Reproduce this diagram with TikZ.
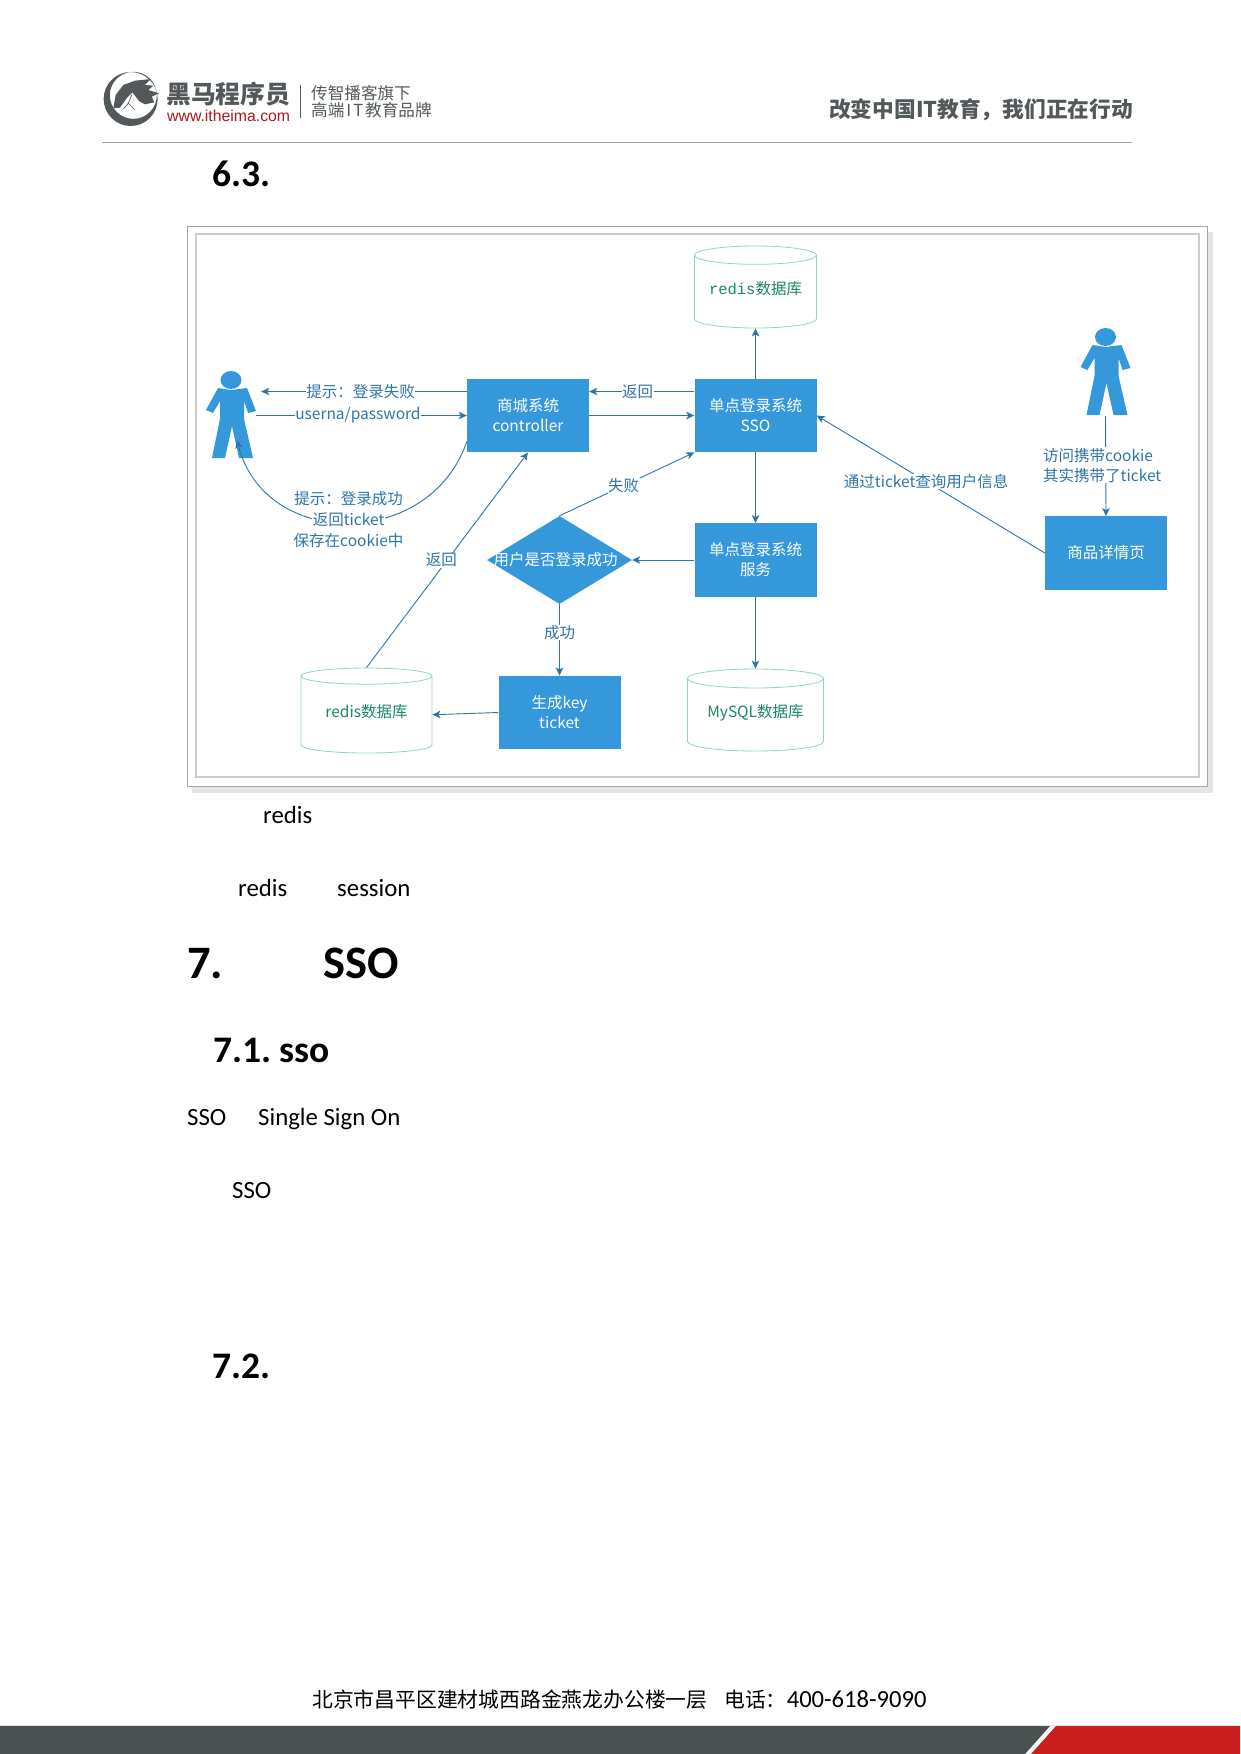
\documentclass[tikz,border=0pt]{standalone}
\usepackage{fontspec}
\setmainfont{Carlito}
\newfontfamily\cjk{Noto Sans CJK SC}
\newfontfamily\monofam{Liberation Mono}
\newfontfamily\arialfam{Liberation Sans}
\usetikzlibrary{arrows.meta,shapes.geometric,positioning}
\definecolor{boxblue}{HTML}{3498DB}
\definecolor{lineblue}{HTML}{2F75A8}
\definecolor{dbline}{HTML}{92D6BA}
\definecolor{dbtext}{HTML}{17896B}
\definecolor{logogrey}{HTML}{53595A}
\definecolor{barslate}{HTML}{4A5352}
\definecolor{barred}{HTML}{C81E1E}
\newcommand{\fwcolon}{\symbol{"FF1A}}
\newcommand{\fwcomma}{\symbol{"FF0C}}
\tikzset{
  sysbox/.style={fill=boxblue,text=white,inner sep=0pt,minimum width=122pt,minimum height=73.5pt,
    align=center,font=\cjk\fontsize{15.5}{20}\selectfont},
  dbcyl/.style={cylinder,shape border rotate=90,shape aspect=0.197,draw=dbline,line width=0.8pt,anchor=shape center,
    inner sep=0pt,minimum height=82pt,text=dbtext,font=\cjk\fontsize{15.5}{20}\selectfont},
  usermark/.style={inner sep=0pt,minimum width=50pt,minimum height=87pt},
  flow/.style={draw=lineblue,line width=0.9pt,-{Stealth[length=8pt,width=7.5pt,inset=2pt]}},
  flowtext/.style={fill=white,text=lineblue,inner sep=0.5pt,align=left,font=\cjk\fontsize{15.5}{20}\selectfont},
  plaintext/.style={text=lineblue,inner sep=0.5pt,font=\cjk\fontsize{15.5}{20}\selectfont},
  bodytext/.style={anchor=base west,inner sep=0pt,font=\fontsize{24.8}{30}\selectfont},
  headtext/.style={anchor=base west,inner sep=0pt,font=\bfseries\fontsize{37.5}{40}\selectfont},
  usershape/.pic={
    \begin{scope}[shift={(0,-35.5)}]
      \path[fill=boxblue] (0,0) circle[x radius=10.5pt,y radius=9pt];
      \path[fill=boxblue] (-13,8)--(0,10)--(16,8)--(25,31)--(17,33)--(13,21)--(13,39)--(22,78)--(8,78)
        --(1,46)--(-6,78)--(-19,78)--(-11,39)--(-11,21)--(-18,33)--(-25,30)--cycle;
    \end{scope}
  }
}
\begin{document}
\begin{tikzpicture}[x=1pt,y=-1pt]
  \useasboundingbox (0,0) rectangle (1240,1754);
  % page head
  \begin{scope}[shift={(95,65)},x=0.3333pt,y=-0.3333pt]
    \path[fill=logogrey,even odd rule] (107,102) circle[radius=27pt]
      (115,91) circle[radius=23.5pt];
    \path[fill=logogrey] (55,130)--(62,90)--(85,60)--(120,47)--(168,42)--(150,60)--(175,62)--(160,75)
      --(192,85)--(170,95)--(178,112)--(150,118)--(132,108)--(112,82)--(95,100)--(75,128)--cycle;
    \draw[logogrey,line width=0.7pt] (110,90)--(100,115)--(85,132) (100,115)--(120,135);
  \end{scope}
  \path (166,94) node[anchor=west,inner sep=0pt,text=logogrey,font=\cjk\bfseries\fontsize{24.8}{28}\selectfont] (logoname) {黑马程序员};
  \path (167,116) node[anchor=west,inner sep=0pt,text=barred!85!black,font=\arialfam\fontsize{15.8}{18}\selectfont] (logoweb) {www.itheima.com};
  \draw[logogrey,line width=0.8pt] (300,85)--(300,118);
  \path (311,93) node[anchor=west,inner sep=0pt,text=logogrey,font=\cjk\fontsize{16.6}{18}\selectfont] (logoa) {传智播客旗下};
  \path (311,110.5) node[anchor=west,inner sep=0pt,text=logogrey,font=\cjk\fontsize{16.6}{18}\selectfont] (logob) {高端\hspace{2pt}I\hspace{2pt}T\hspace{2pt}教育品牌};
  \path (1133,110) node[anchor=east,inner sep=0pt,text=logogrey,font=\cjk\bfseries\fontsize{21.7}{24}\selectfont] (slogan) {改变中国IT教育\fwcomma 我们正在行动};
  \draw[black!35,line width=1pt] (102,142.5)--(1132,142.5);
  \path (212,186) node[headtext] (secsixthree) {6.3.};
  % frame of the figure
  \path[fill=black!10] (192,232) rectangle (1213,793);
  \path[fill=white,draw=black!35,line width=1pt] (187,226) rectangle (1207,786);
  \path[draw=black!20,line width=1.5pt] (196,234) rectangle (1199,777);
  % boxes
  \path (528,415.5) node[sysbox] (mall) {商城系统\\controller};
  \path (755.5,415.5) node[sysbox] (sso) {单点登录系统\\SSO};
  \path (755.5,560) node[sysbox] (service) {单点登录系统\\服务};
  \path (1106,553) node[sysbox] (detail) {商品详情页};
  \path (559.5,712.5) node[sysbox] (ticket) {生成key\\ticket};
  \path (559.5,560) node[diamond,fill=boxblue,text=white,inner sep=0pt,aspect=1.65,minimum width=145pt,minimum height=88pt,
    font=\cjk\fontsize{15.5}{20}\selectfont] (check) {\makebox[100pt]{\hspace{-8pt}用户是否登录成功}};
  \path (755.5,287) node[dbcyl,minimum width=122pt] (redistop) {\raisebox{7pt}{{\monofam redis}数据库}};
  \path (366.5,710.5) node[dbcyl,minimum width=131pt,minimum height=85pt] (redisleft) {\raisebox{7pt}{redis数据库}};
  \path (755.5,710) node[dbcyl,minimum width=136pt] (mysqldb) {\raisebox{7pt}{MySQL数据库}};
  % the two users
  \path (231,415.5) node[usermark] (userl) {};
  \path (1105.5,372.5) node[usermark] (userr) {};
  \path (userl) pic {usershape};
  \path (userr) pic {usershape};
  % connectors
  \draw[flow] ([yshift=24pt]mall.west) -- node[flowtext,pos=0.517] (lblfail) {提示\fwcolon 登录失败} ([xshift=5pt,yshift=24pt]userl.east);
  \draw[flow] (userl.east) -- node[flowtext,pos=0.483] (lbluser) {userna/password} (mall.west);
  \draw[flow] (mall.east) -- (sso.west);
  \draw[flow] ([yshift=24pt]sso.west) -- node[flowtext,pos=0.54] (lblback) {返回} ([yshift=24pt]mall.east);
  \draw[flow] (sso.north) -- (redistop.south);
  \draw[flow] (sso.south) -- (service.north);
  \draw[flow] (service.west) -- (check.east);
  \draw[flow] (service.south) -- (mysqldb.north);
  \draw[flow] (check.north) -- node[flowtext,pos=0.475] (lblno) {失败} (sso.south west);
  \draw[flow] (check.south) -- node[flowtext,pos=0.4] (lblyes) {成功} (ticket.north);
  \draw[flow] (ticket.west) -- (redisleft.east);
  \draw[flow] (redisleft.north) -- node[flowtext,pos=0.5,xshift=-6pt] (lblret) {返回} (mall.south);
  \draw[flow] ([yshift=-26pt]mall.west) .. controls (430,550) and (265,550) ..
    node[flowtext,pos=0.5,yshift=3pt] (lblticket) {返回ticket} ([xshift=6pt,yshift=19pt]userl.south);
  \path ([yshift=21pt]lblticket.center) node[plaintext] (lblok) {提示\fwcolon 登录成功};
  \path ([yshift=-21pt]lblticket.center) node[plaintext] (lblcookie) {保存在cookie中};
  \draw[flow] (detail.west) -- node[flowtext,pos=0.52] (lblquery) {通过ticket查询用户信息} (sso.east);
  \draw[flow] (userr.south) -- node[flowtext,pos=0.49,xshift=-3.5pt] (lblvisit) {访问携带cookie\\其实携带了ticket} (detail.north);
  % text under the figure
  \path (263,823) node[bodytext] (txtredisa) {redis};
  \path (238,896) node[bodytext] (txtredisb) {redis};
  \path (337,896) node[bodytext] (txtsession) {session};
  \path (187,978) node[anchor=base west,inner sep=0pt,font=\bfseries\fontsize{46.5}{50}\selectfont] (secseven) {7.};
  \path (323,978) node[anchor=base west,inner sep=0pt,font=\bfseries\fontsize{46.5}{50}\selectfont] (secsso) {SSO};
  \path (213,1062) node[headtext] (secsevenone) {7.1.\hspace{8pt}sso};
  \path (187,1125) node[bodytext] (txtsso) {SSO};
  \path (258,1125) node[bodytext] (txtsingle) {Single Sign On};
  \path (232,1198) node[bodytext] (txtssob) {SSO};
  \path (212,1378) node[headtext] (secseventwo) {7.2.};
  % page foot
  \path (312,1700) node[anchor=west,inner sep=0pt,font=\fontsize{24.6}{28}\selectfont] (foot)
    {{\cjk\fontsize{20.8}{28}\selectfont 北京市昌平区建材城西路金燕龙办公楼一层\hspace{17pt}电话\fwcolon}400-618-9090};
  \path[fill=black!10] (0,1724.5) rectangle (1240,1726);
  \path[fill=barslate] (0,1726) -- (1050,1726) -- (1025,1754) -- (0,1754) -- cycle;
  \path[fill=barred] (1056,1726) -- (1240,1726) -- (1240,1754) -- (1031,1754) -- cycle;
\end{tikzpicture}
\end{document}
